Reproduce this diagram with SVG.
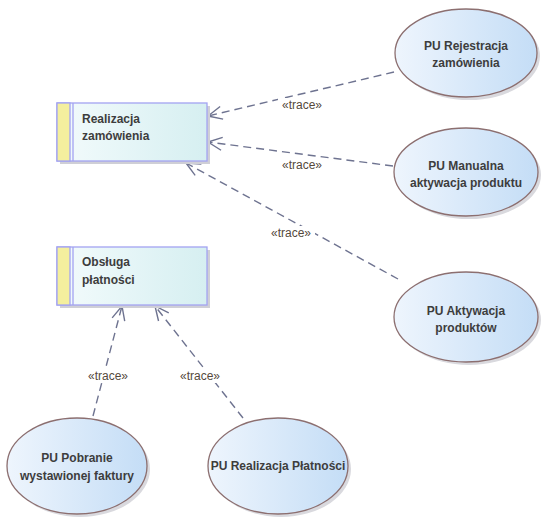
<svg xmlns="http://www.w3.org/2000/svg" width="551" height="528" viewBox="0 0 551 528">
<defs>
<linearGradient id="rg" x1="0" y1="0" x2="1" y2="0">
<stop offset="0" stop-color="#f3fbfc"/>
<stop offset="1" stop-color="#d6eff1"/>
</linearGradient>
<linearGradient id="eg" x1="0" y1="0" x2="1" y2="0">
<stop offset="0" stop-color="#eef5fd"/>
<stop offset="1" stop-color="#c4ddf6"/>
</linearGradient>
<marker id="arr" viewBox="-16 -8 17 16" markerWidth="17" markerHeight="16" refX="0" refY="0" orient="auto" markerUnits="userSpaceOnUse">
<path d="M-14,-6.5 L0,0 L-14,6.5" fill="none" stroke="#6e7390" stroke-width="1.4"/>
</marker>
</defs>
<style>
.shadow{fill:#cfcfd6}
.eshadow{fill:#d9d9de}
.rect{fill:url(#rg);stroke:#a3a3f2;stroke-width:1.3}
.strip{fill:#f4ef9e;stroke:#a3a3f2;stroke-width:1.3}
.ell{fill:url(#eg);stroke:#8c6f70;stroke-width:1.3}
.t{font-family:"Liberation Sans",Arial,sans-serif;font-size:12px;font-weight:bold;fill:#3d3d3d}
.tc{text-anchor:middle}
.conn{fill:none;stroke:#6e7390;stroke-width:1.4;stroke-dasharray:8,5;marker-end:url(#arr)}
.lbl{font-family:"Liberation Sans",Arial,sans-serif;font-size:12px;fill:#55493c;text-anchor:middle}
</style>
<rect width="551" height="528" fill="#ffffff"/>
<g id="connectors">
<path class="conn" d="M394,72 L208,116"/>
<path class="conn" d="M393,166 L208,142"/>
<path class="conn" d="M398,279 L186,163"/>
<path class="conn" d="M93,416 L122,306"/>
<path class="conn" d="M243,418 L155,306"/>
<rect x="278" y="98" width="48" height="14" fill="#ffffff"/>
<text class="lbl" x="302" y="109">«trace»</text>
<text class="lbl" x="302" y="169">«trace»</text>
<rect x="267" y="226" width="48" height="14" fill="#ffffff"/>
<text class="lbl" x="291" y="237">«trace»</text>
<rect x="84" y="369" width="48" height="14" fill="#ffffff"/>
<text class="lbl" x="108" y="380">«trace»</text>
<rect x="176" y="369" width="48" height="14" fill="#ffffff"/>
<text class="lbl" x="200" y="380">«trace»</text>
</g>
<g id="realizacja-zamowienia">
<rect class="shadow" x="60" y="106" width="150" height="58"/>
<rect class="rect" x="57" y="103" width="150" height="58"/>
<rect class="strip" x="57" y="103" width="13" height="58"/>
<line x1="73" y1="103" x2="73" y2="161" stroke="#a3a3f2" stroke-width="1.3"/>
<text class="t" x="82" y="123">Realizacja</text>
<text class="t" x="82" y="140">zamówienia</text>
</g>
<g id="obsluga-platnosci">
<rect class="shadow" x="60" y="250" width="150" height="58"/>
<rect class="rect" x="57" y="247" width="150" height="58"/>
<rect class="strip" x="57" y="247" width="13" height="58"/>
<line x1="73" y1="247" x2="73" y2="305" stroke="#a3a3f2" stroke-width="1.3"/>
<text class="t" x="82" y="266">Obsługa</text>
<text class="t" x="82" y="284">płatności</text>
</g>
<g id="pu-rejestracja">
<ellipse class="eshadow" cx="469" cy="56" rx="71" ry="44"/>
<ellipse class="ell" cx="466" cy="53" rx="71" ry="44"/>
<text class="t tc" x="466" y="50">PU Rejestracja</text>
<text class="t tc" x="466" y="67">zamówienia</text>
</g>
<g id="pu-manualna">
<ellipse class="eshadow" cx="469" cy="175" rx="72" ry="44"/>
<ellipse class="ell" cx="466" cy="172" rx="72" ry="44"/>
<text class="t tc" x="466" y="170">PU Manualna</text>
<text class="t tc" x="466" y="187">aktywacja produktu</text>
</g>
<g id="pu-aktywacja">
<ellipse class="eshadow" cx="469" cy="320" rx="72" ry="45"/>
<ellipse class="ell" cx="466" cy="317" rx="72" ry="45"/>
<text class="t tc" x="466" y="315">PU Aktywacja</text>
<text class="t tc" x="466" y="332">produktów</text>
</g>
<g id="pu-pobranie">
<ellipse class="eshadow" cx="80" cy="469" rx="70" ry="48"/>
<ellipse class="ell" cx="77" cy="466" rx="70" ry="48"/>
<text class="t tc" x="77" y="462">PU Pobranie</text>
<text class="t tc" x="77" y="480">wystawionej faktury</text>
</g>
<g id="pu-realizacja-platnosci">
<ellipse class="eshadow" cx="281" cy="469" rx="70" ry="48"/>
<ellipse class="ell" cx="278" cy="466" rx="70" ry="48"/>
<text class="t tc" x="278" y="470">PU Realizacja Płatności</text>
</g>
</svg>
